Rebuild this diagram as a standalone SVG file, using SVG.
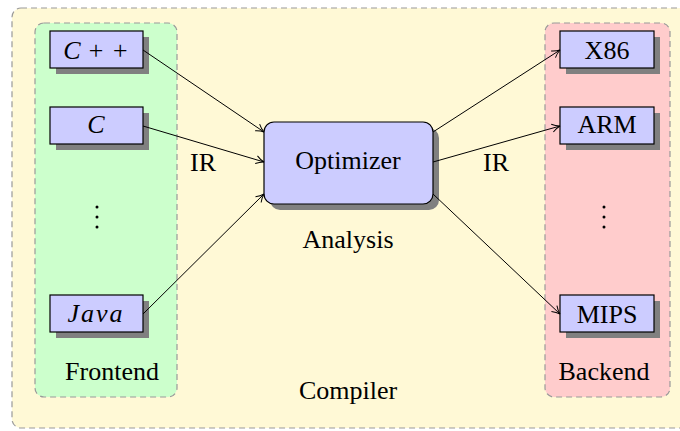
<svg xmlns="http://www.w3.org/2000/svg" width="680" height="431" viewBox="0 0 680 431" font-family="'Liberation Serif', 'Times New Roman', 'DejaVu Serif', serif">
<defs>
<marker id="arr" viewBox="0 0 10 10" refX="9" refY="5" markerWidth="10" markerHeight="10" markerUnits="userSpaceOnUse" orient="auto">
<path d="M1,1 Q5,4 9,5 Q5,6 1,9" fill="none" stroke="#000" stroke-width="1"/>
</marker>
</defs>
<style>
.grp{stroke:#999;stroke-width:1.2;stroke-dasharray:6,4}
.nd{fill:#ccccff;stroke:#000;stroke-width:1.2}
.sh{fill:#808080}
text{font-size:26px;fill:#000;text-anchor:middle}
.m{font-style:italic}
.c{stroke:#000;stroke-width:1;fill:none;marker-end:url(#arr)}
</style>
<g id="compiler">
<rect class="grp" x="12" y="8" width="690" height="420" rx="9" fill="#fff9d6"/>
<text x="348" y="399">Compiler</text>
</g>
<g id="frontend">
<rect class="grp" x="35" y="23" width="142" height="374" rx="9" fill="#ccffcc"/>
<text x="112" y="380">Frontend</text>
</g>
<g id="backend">
<rect class="grp" x="545" y="23" width="125" height="374" rx="9" fill="#ffcccc"/>
<text x="604" y="380">Backend</text>
</g>
<g id="cpp">
<rect class="sh" x="56" y="37" width="93" height="37"/>
<rect class="nd" x="50" y="31" width="93" height="37"/>
<text class="m" x="96" y="59">C + +</text>
</g>
<g id="c">
<rect class="sh" x="56" y="113" width="93" height="37"/>
<rect class="nd" x="50" y="107" width="93" height="37"/>
<text class="m" x="96" y="133">C</text>
</g>
<g id="fdots">
<circle cx="97" cy="207" r="1.5"/>
<circle cx="97" cy="217" r="1.5"/>
<circle cx="97" cy="227" r="1.5"/>
</g>
<g id="java">
<rect class="sh" x="56" y="301" width="93" height="37"/>
<rect class="nd" x="50" y="295" width="93" height="37"/>
<text class="m" x="96" y="322" letter-spacing="2">Java</text>
</g>
<g id="optimizer">
<rect class="sh" x="270" y="128" width="169" height="82" rx="10"/>
<rect class="nd" x="264" y="122" width="169" height="82" rx="10"/>
<text x="348" y="169">Optimizer</text>
<text x="348" y="248">Analysis</text>
</g>
<g id="x86">
<rect class="sh" x="566" y="37" width="94" height="37"/>
<rect class="nd" x="560" y="31" width="94" height="37"/>
<text x="607" y="59">X86</text>
</g>
<g id="arm">
<rect class="sh" x="566" y="113" width="94" height="37"/>
<rect class="nd" x="560" y="107" width="94" height="37"/>
<text x="607" y="133">ARM</text>
</g>
<g id="bdots">
<circle cx="604" cy="207" r="1.5"/>
<circle cx="604" cy="217" r="1.5"/>
<circle cx="604" cy="227" r="1.5"/>
</g>
<g id="mips">
<rect class="sh" x="566" y="301" width="94" height="37"/>
<rect class="nd" x="560" y="295" width="94" height="37"/>
<text x="607" y="323">MIPS</text>
</g>
<g id="connectors">
<line class="c" x1="143" y1="50" x2="264" y2="132"/>
<line class="c" x1="143" y1="126" x2="264" y2="162"/>
<line class="c" x1="143" y1="314" x2="264" y2="194"/>
<line class="c" x1="433" y1="132" x2="560" y2="50"/>
<line class="c" x1="433" y1="162" x2="560" y2="126"/>
<line class="c" x1="433" y1="194" x2="560" y2="314"/>
<text x="203" y="171">IR</text>
<text x="496" y="171">IR</text>
</g>
</svg>
